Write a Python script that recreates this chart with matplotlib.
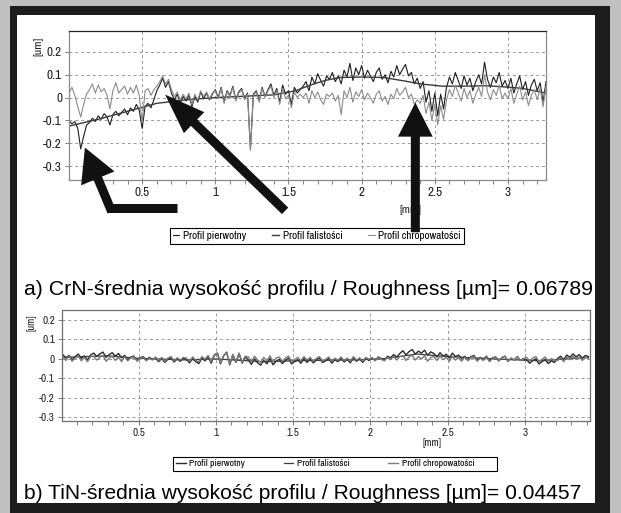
import numpy as np
import matplotlib.pyplot as plt
from matplotlib import font_manager as fm
from matplotlib.patches import Rectangle

# ---------------- dane (wartosci w nm) ----------------
# a) CrN - profil pierwotny, krok ~0.02 mm od 0 do 3.26 mm
crn_pierwotny = [
    -100, -115, -105, -135, -225, -170, -120, -110, -90, -105,
    -80, -95, -70, -85, -120, -75, -60, -80, -65, -50,
    -75, -45, -60, -30, -55, -135, -40, -25, -45, -10,
    30, 55, 85, 45, 70, 20, -10, 15, -25, 5,
    -15, 10, -40, 5, -20, 25, -5, 20, -10, 15,
    35, 0, 45, -20, 30, 10, 50, -10, 25, 40,
    -5, 20, -225, 15, 30, -15, 45, 5, 35, 60,
    10, 40, -20, 55, 15, 30, -30, 45, 20, 35,
    50, 70, 30, 90, 60, 105, 75, 50, 95, 80,
    110, 70, 95, 60, 120, 90, 150, 75, 130, 100,
    140, 85, 120, 95, 70, 110, 130, 80, 100, 65,
    115, 90, 140, 100, 125, 145, 95, 110, 60, 85,
    40, 70, -20, 30, -60, 20, -80, 15, -50, 45,
    90, 60, 110, 75, 40, 95, 55, 85, 30, 70,
    100, 60, 155, 80, 45, 90, 65, 110, 50, 75,
    40, 85, 20, 60, 95, 35, 70, 10, 55, 80,
    30, 65, -20, 70,
]
# a) CrN - profil chropowatosci
crn_chropowatosc = [
    20, 45, 10, -40, -85, -30, 15, 35, 60, 20,
    55, 25, 40, 10, -50, 30, 65, 20, 35, 50,
    15, 45, 20, 55, 10, -110, 30, 40, 10, 35,
    50, 70, 95, 60, 80, 35, 5, 25, -10, 15,
    -5, 20, -30, 15, -10, 30, 5, 25, -5, 20,
    30, -5, 40, -25, 25, 5, 45, -15, 20, 35,
    -10, 15, -232, 10, 25, -20, 40, 0, 30, 50,
    0, 30, -30, 40, -5, 10, -45, 25, 0, 15,
    0, 20, -25, 30, 0, 25, -10, -30, 15, 5,
    20, -15, 10, -75, 30, 0, 45, -20, 25, 5,
    35, -10, 20, 0, -25, 15, 30, -15, 5, -30,
    15, -5, 40, 10, 25, 45, 0, 15, -30, -10,
    -25, 10, -70, -20, -100, -30, -120, -35, -95, -10,
    35, 5, 55, 20, -15, 40, 0, 30, -25, 15,
    45, 5, 100, 25, -10, 35, 10, 55, -5, 20,
    -5, 40, -25, 15, 50, -10, 25, -35, 10, 35,
    -10, 40, -40, 50,
]
# a) CrN - profil falistosci (gladka linia)
crn_fal_x = [0, 0.2, 0.4, 0.6, 0.8, 1.0, 1.2, 1.4, 1.55, 1.65, 1.75,
             1.85, 2.0, 2.15, 2.3, 2.4, 2.55, 2.7, 2.85, 3.0, 3.1, 3.26]
crn_fal = [-125, -95, -60, -25, -10, 0, 6, 12, 30, 55, 75,
           88, 90, 88, 72, 60, 50, 50, 52, 46, 40, 20]

# b) TiN - profil pierwotny, krok ~0.02 mm od 0.01 do 3.41 mm
tin_pierwotny = [
    22, 5, 18, -4, 12, 25, 3, 16, -6, 20,
    30, 12, 26, 35, 8, 22, 32, 14, 28, 6,
    18, -4, 10, 15, -8, 6, 12, -5, 8, -2,
    4, -14, 2, -18, -2, 6, -16, 0, -12, 3,
    -4, -20, 2, -14, -24, 4, -10, 12, -22, 18,
    30, -25, 15, 35, -30, 20, -18, 28, -22, 10,
    -5, -28, 0, -20, -32, -8, -25, 2, -30, -12,
    -2, -24, -8, 4, -26, -14, -4, -22, 2, -18,
    0, -20, -6, 6, -18, -10, 2, -22, -4, -14,
    4, -16, -2, -20, 6, -12, 0, -18, 2, -8,
    6, -8, 10, 2, -6, 14, 6, 22, 10, 28,
    42, 20, 38, 48, 24, 40, 30, 45, 18, 36,
    28, 10, 32, 14, 24, 4, 30, 12, 20, 2,
    14, -6, 12, 18, -8, 8, -4, 14, -10, 6,
    10, -10, 6, 14, -12, 4, -6, 12, -8, 2,
    -4, -22, -8, 0, -26, -14, -2, -24, -10, -18,
    2, 14, -4, 20, 8, 26, 10, 22, 4, 18,
    12,
]
# b) TiN - profil chropowatosci
tin_chropowatosc = [
    10, -8, 14, -12, 4, 16, -10, 8, -14, 12,
    12, -6, 8, 18, -12, 4, 14, -8, 10, -14,
    12, -10, 6, 14, -12, 2, 10, -10, 4, -6,
    10, -8, 8, -12, 4, 12, -10, 6, -6, 8,
    4, -12, 10, -6, -16, 12, -2, 18, -14, 22,
    30, -20, 18, 32, -26, 24, -14, 30, -18, 14,
    10, -14, 14, -6, -18, 8, -10, 16, -16, 4,
    10, -12, 4, 14, -14, -2, 8, -10, 12, -6,
    8, -12, 2, 12, -10, -2, 10, -14, 4, -6,
    10, -10, 4, -12, 12, -6, 6, -12, 8, -2,
    6, -10, 8, -2, -10, 10, -4, 14, -6, 12,
    16, -8, 10, 20, -6, 12, 0, 16, -12, 8,
    12, -8, 14, -4, 8, -12, 12, -6, 6, -12,
    10, -10, 8, 14, -12, 4, -8, 10, -14, 2,
    10, -10, 6, 14, -12, 4, -6, 12, -8, 2,
    8, -10, 4, 12, -14, -2, 10, -12, 2, -6,
    -8, 6, -14, 10, -4, 14, -2, 10, -8, 8,
    2,
]
# b) TiN - profil falistosci
tin_fal_x = [0.01, 0.3, 0.5, 0.8, 1.0, 1.3, 1.6, 1.9, 2.1, 2.3, 2.5, 2.8, 3.1, 3.41]
tin_fal = [8, 16, 3, -5, 0, -14, -8, -5, 2, 25, 12, 0, -10, 8]

y_ticks = [0.2, 0.1, 0, -0.1, -0.2, -0.3]
y_labels = ['0.2', '0.1', '0', '-0.1', '-0.2', '-0.3']
x_ticks = [0.5, 1, 1.5, 2, 2.5, 3]
x_labels = ['0.5', '1', '1.5', '2', '2.5', '3']
legend_labels = ['Profil pierwotny', 'Profil falistości', 'Profil chropowatości']
caption_a = 'a) CrN-średnia wysokość profilu / Roughness [µm]= 0.06789'
caption_b = 'b) TiN-średnia wysokość profilu / Roughness [µm]= 0.04457'

# waska czcionka do osi i legendy (pierwsza dostepna z listy)
zainstalowane = {f.name for f in fm.fontManager.ttflist}
kandydaci = ['Liberation Sans Narrow', 'Arial Narrow', 'Archivo Narrow', 'PT Sans Narrow',
             'Roboto Condensed', 'Open Sans Condensed', 'Fira Sans Condensed',
             'IBM Plex Sans Condensed', 'Encode Sans Condensed', 'Liberation Sans']
waska = [k for k in kandydaci if k in zainstalowane][:1] + ['DejaVu Sans']
zwykla = ['Liberation Sans', 'DejaVu Sans']
plt.rcParams['axes.unicode_minus'] = False

W, H = 621, 513
fig = plt.figure(figsize=(W / 100, H / 100), dpi=100, facecolor='#c0c0c0')

# ramka: czarna obwodka i biale pole
fig.add_artist(Rectangle((10 / W, 0), 600 / W, 507 / H, transform=fig.transFigure,
                         facecolor='#1c1c1c', edgecolor='none', zorder=-2))
fig.add_artist(Rectangle((17 / W, 10 / H), 578 / W, 488 / H, transform=fig.transFigure,
                         facecolor='white', edgecolor='none', zorder=-1))


def przygotuj_os(ax, xlim, ylim, fs, kolor_ramki):
    ax.set_xlim(*xlim)
    ax.set_ylim(*ylim)
    ax.set_xticks(x_ticks)
    ax.set_xticklabels(x_labels, family=waska, fontsize=fs)
    ax.set_xticks(np.arange(0.1, xlim[1], 0.1), minor=True)
    ax.set_yticks(y_ticks)
    ax.set_yticklabels(y_labels, family=waska, fontsize=fs)
    ax.tick_params(axis='both', which='both', direction='out', length=3,
                   width=0.7, color='#808080', pad=2, labelcolor='#222222')
    ax.tick_params(axis='y', which='minor', length=0)
    ax.grid(True, which='major', linestyle=(0, (3, 3)), color='#9a9a9a', linewidth=0.7)
    for s in ax.spines.values():
        s.set_color(kolor_ramki)
        s.set_linewidth(0.9)


# ---------------- wykres a) CrN ----------------
ax1 = fig.add_axes([69 / W, 1 - 180 / H, 477 / W, 149.3 / H])
x1 = np.linspace(0, 3.26, len(crn_pierwotny))
x1r = np.linspace(0, 3.26, len(crn_chropowatosc))
l1, = ax1.plot(x1, np.array(crn_pierwotny) / 1000, color='#1e1e1e', lw=0.8)
l2, = ax1.plot(crn_fal_x, np.array(crn_fal) / 1000, color='#3a3a3a', lw=1.0)
l3, = ax1.plot(x1r, np.array(crn_chropowatosc) / 1000, color='#8c8c8c', lw=0.8)
przygotuj_os(ax1, (0, 3.26), (-0.361, 0.293), 9.5, '#8a8a8a')
ax1.spines['top'].set_color('#222222')
ax1.text(-0.065, 0.894, '[um]', transform=ax1.transAxes, rotation=90,
         ha='center', va='center', family=waska, fontsize=8.5, color='#222222')
ax1.text(0.715, -0.2, '[mm]', transform=ax1.transAxes, ha='center', va='center',
         family=waska, fontsize=8.5, color='#222222', zorder=1)
leg1 = ax1.legend([l1, l2, l3], legend_labels, ncol=3, loc='upper left',
                  bbox_to_anchor=(170 / W, 1 - 228 / H), bbox_transform=fig.transFigure,
                  prop={'family': waska, 'size': 8}, fancybox=False, framealpha=1,
                  edgecolor='black', borderpad=0.25, handlelength=0.6,
                  handletextpad=0.35, columnspacing=2.3, borderaxespad=0)
leg1.get_frame().set_linewidth(0.8)


# strzalki (wspolrzedne danych osi a)
def strzalka(tip, tail, hl, hw):
    ax1.annotate('', xy=tip, xytext=tail, annotation_clip=False, zorder=10,
                 arrowprops=dict(arrowstyle=f'simple,head_length={hl},head_width={hw},tail_width=6.5',
                                 mutation_scale=1, color='#111111', lw=0,
                                 shrinkA=0, shrinkB=0))


strzalka((0.109, -0.219), (0.292, -0.50), 24, 26)
ax1.plot([0.262, 0.739], [-0.482, -0.482], color='#111111', lw=6.5,
         solid_capstyle='butt', clip_on=False, zorder=10)
strzalka((0.657, 0.013), (1.477, -0.496), 29, 21)
strzalka((2.367, -0.022), (2.367, -0.59), 24.5, 25)

# ---------------- wykres b) TiN ----------------
ax2 = fig.add_axes([62 / W, 1 - 420.7 / H, 528 / W, 110.7 / H])
x2 = np.linspace(0.01, 3.41, len(tin_pierwotny))
x2r = np.linspace(0.01, 3.41, len(tin_chropowatosc))
m1, = ax2.plot(x2, np.array(tin_pierwotny) / 1000, color='#2a2a2a', lw=1.0)
m2, = ax2.plot(tin_fal_x, np.array(tin_fal) / 1000, color='#3a3a3a', lw=0.9)
m3, = ax2.plot(x2r, np.array(tin_chropowatosc) / 1000, color='#7a7a7a', lw=1.0)
przygotuj_os(ax2, (0.005, 3.42), (-0.317, 0.251), 8, '#707070')
ax2.text(-0.057, 0.883, '[um]', transform=ax2.transAxes, rotation=90,
         ha='center', va='center', family=waska, fontsize=7.5, color='#222222')
ax2.text(0.70, -0.199, '[mm]', transform=ax2.transAxes, ha='center', va='center',
         family=waska, fontsize=7.5, color='#222222')
leg2 = ax2.legend([m1, m2, m3], legend_labels[:2] + [legend_labels[2] + '         '],
                  ncol=3, loc='upper left',
                  bbox_to_anchor=(173 / W, 1 - 456.5 / H), bbox_transform=fig.transFigure,
                  prop={'family': waska, 'size': 7}, fancybox=False, framealpha=1,
                  edgecolor='black', borderpad=0.3, handlelength=1.0,
                  handletextpad=0.35, columnspacing=4.0, borderaxespad=0)
leg2.get_frame().set_linewidth(0.8)

# podpisy
fig.text(24 / W, 1 - 295.3 / H, caption_a, ha='left', va='baseline',
         family=zwykla, fontsize=15.35, color='black')
fig.text(24 / W, 1 - 499 / H, caption_b, ha='left', va='baseline',
         family=zwykla, fontsize=15.15, color='black')

fig.savefig('out.png', dpi=100, facecolor=fig.get_facecolor())
